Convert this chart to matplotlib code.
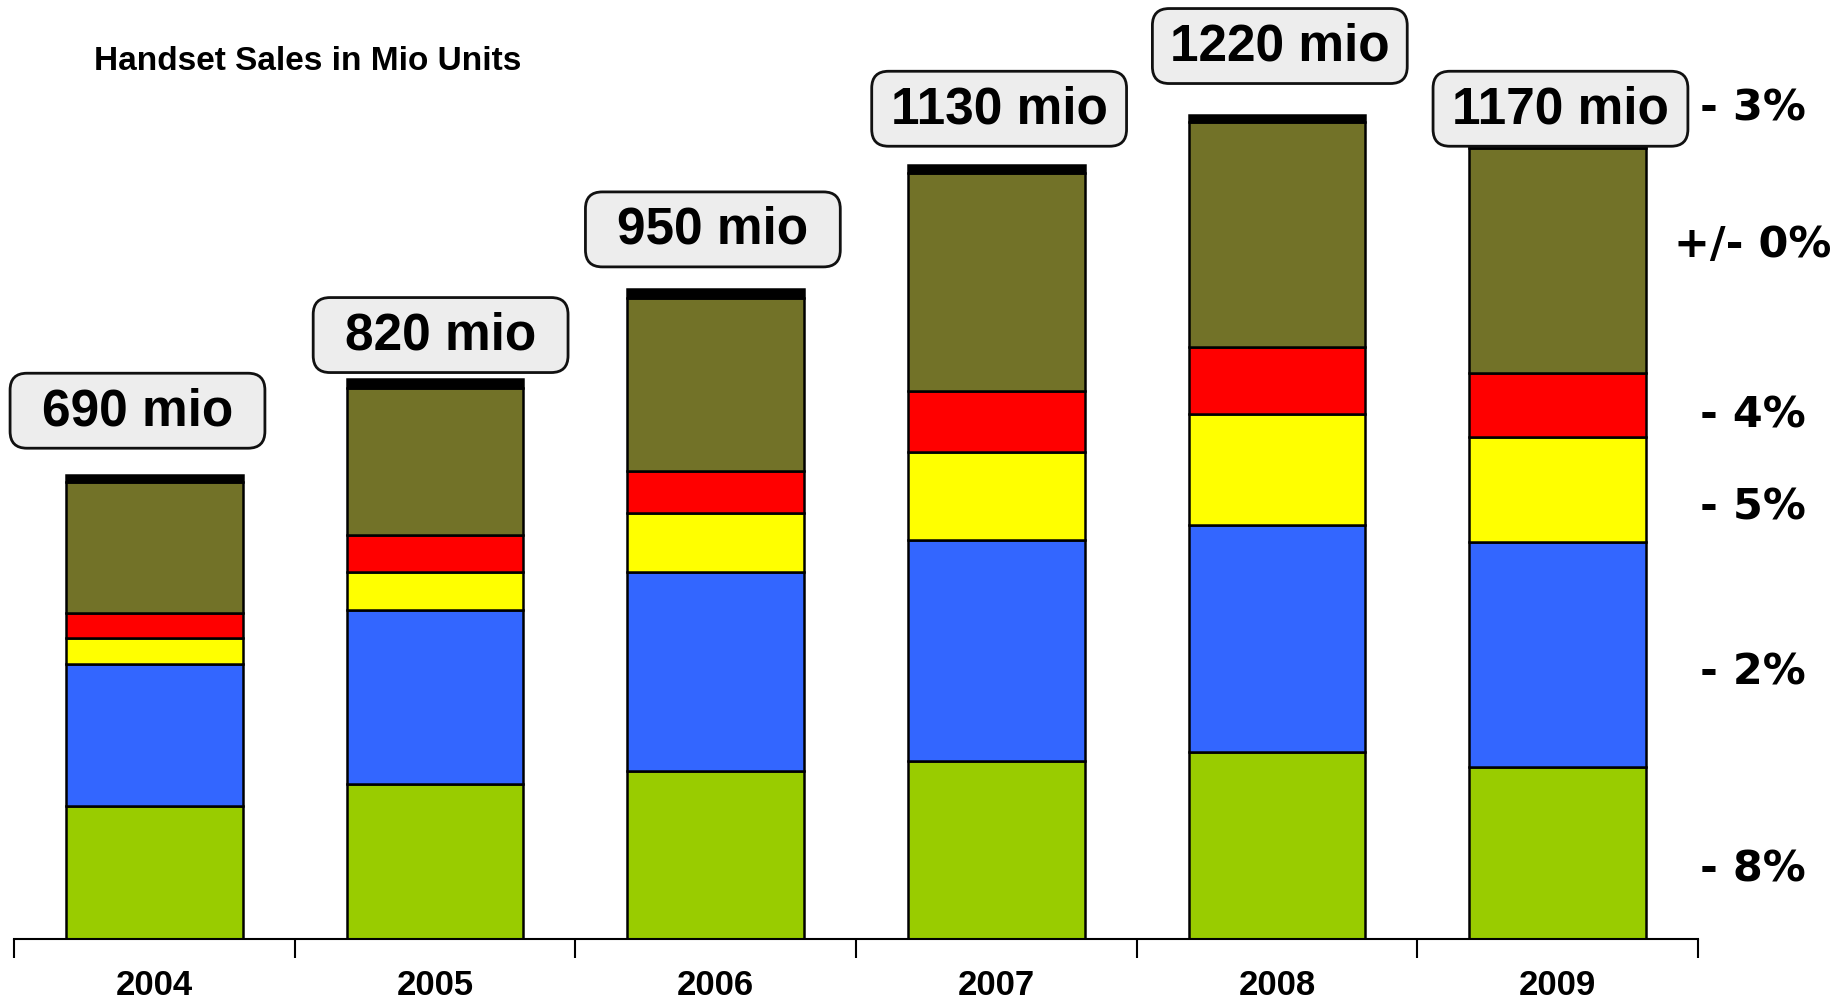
#!/usr/bin/env python3

import numpy as np
import matplotlib
matplotlib.use('Agg')
import matplotlib.pyplot as plt
import matplotlib.patches as mpatch

years = ['2004', '2005', '2006', '2007', '2008', '2009']
totals = ['690 mio', '820 mio', '950 mio', '1130 mio', '1220 mio', '1170 mio']

# segment values in mio units, bottom to top
green = [195, 227, 247, 261, 275, 253]
blue = [209, 256, 291, 325, 332, 329]
yellow = [38, 55, 87, 128, 163, 154]
red = [36, 55, 62, 90, 99, 95]
olive = [192, 216, 253, 320, 330, 330]
black = [10, 12, 14, 12, 10, 9]

growth = ['- 8%', '- 2%', '- 5%', '- 4%', '+/- 0%', '- 3%']

seg_colors = ['#99CC00', '#3366FF', '#FFFF00', '#FF0000', '#727228', '#000000']

# layout: where the label boxes and the growth labels sit (mio units / category units)
box_y = [775, 886, 1041, 1218, 1310, 1218]
box_dx = [-0.06, 0.02, -0.01, 0.01, 0.01, 0.01]
growth_y = [104, 393, 635, 770, 1019, 1220]

narrow = ['Liberation Sans', 'DejaVu Sans']

fig = plt.figure(figsize=(18.49, 10.03), dpi=100)
ax = fig.add_axes([14 / 1849, 63 / 1003, (1698 - 14) / 1849, 940 / 1003])
ax.set_xlim(-0.5, 5.5)
ax.set_ylim(0, 1379)

x = np.arange(len(years))
bottom = np.zeros(len(years))
for vals, col in zip([green, blue, yellow, red, olive, black], seg_colors):
    ax.bar(x, vals, 0.63, bottom=bottom, color=col, edgecolor='black', linewidth=1.8, zorder=2)
    bottom += np.array(vals)

# label boxes, fixed size
box_w = 0.908
box_h = 110
aspect = 1.467 * 280.7
for i in range(len(years)):
    cx = x[i] + box_dx[i]
    box = mpatch.FancyBboxPatch((cx - box_w / 2, box_y[i] - box_h / 2), box_w, box_h,
                                boxstyle='round,pad=0,rounding_size=0.06', mutation_aspect=aspect,
                                facecolor='#EDEDED', edgecolor='#111111', linewidth=2,
                                clip_on=False, zorder=3)
    ax.add_patch(box)
    ax.text(cx, box_y[i], totals[i], ha='center', va='center', fontsize=37,
            fontweight='bold', family=narrow, zorder=4)

for lab, yy in zip(growth, growth_y):
    ax.text(5.695, yy, lab, ha='center', va='center', fontsize=31, fontweight='bold',
            family='DejaVu Sans', clip_on=False)

for s in ['top', 'right', 'left']:
    ax.spines[s].set_visible(False)
ax.spines['bottom'].set_linewidth(1.5)
ax.set_yticks([])
ax.set_xticks(x)
ax.set_xticklabels(years, fontsize=25, fontweight='bold', family=narrow)
ax.set_xticks(np.arange(-0.5, 6.0, 1.0), minor=True)
ax.tick_params(axis='x', which='major', length=0, pad=21)
ax.tick_params(axis='x', which='minor', length=14, width=1.5, direction='out')

fig.text(94 / 1849, 1 - 61 / 1003, 'Handset Sales in Mio Units', ha='left', va='center',
         fontsize=24, fontweight='bold', family=narrow)

fig.savefig('out.png', dpi=100, facecolor='white')
